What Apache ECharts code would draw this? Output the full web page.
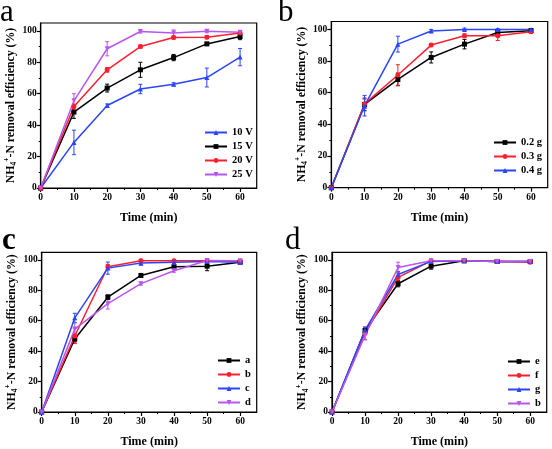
<!DOCTYPE html>
<html><head><meta charset="utf-8">
<script src="https://cdn.jsdelivr.net/npm/echarts@6/dist/echarts.min.js"></script>
<style>html,body{margin:0;padding:0;background:#fff}#c{width:552px;height:449px}</style>
</head><body><div id="c"></div>
<script>
// ---- data ----
const timeMin = [0, 10, 20, 30, 40, 50, 60];
const xMajorTicks = [0, 10, 20, 30, 40, 50, 60];
const xMinorTicks = [5, 15, 25, 35, 45, 55];
const yMajorTicks = [0, 20, 40, 60, 80, 100];
const yMinorTicks = [10, 30, 50, 70, 90];

// panel a: voltage
const a10V = [0, 29, 52.5, 63, 66, 70.3, 83.3];
const a10Verr = [0, 7.8, 1, 3, 1, 6, 5.5];
const a15V = [0, 48.3, 63.6, 75.2, 83, 91.7, 96.4];
const a15Verr = [0, 4, 2.5, 4.8, 2, 1, 2];
const a20V = [0, 51.9, 75.2, 90, 95.8, 96, 98.7];
const a20Verr = [0, 1.5, 1.5, 1, 1, 1, 0.8];
const a25V = [0, 55.5, 88.6, 99.6, 98.6, 99.8, 99.1];
const a25Verr = [0, 4.5, 4.5, 1, 2, 1, 1];

// panel b: dosage
const b02g = [0, 52.6, 68.4, 82.3, 90.7, 98.1, 99.2];
const b02gErr = [0, 4, 4, 3.5, 3, 1, 0.8];
const b03g = [0, 53, 71.2, 90.1, 96, 96, 98.5];
const b03gErr = [0, 3, 6.5, 1, 1.2, 3, 1];
const b04g = [0, 51.8, 90.7, 99, 100, 100, 100];
const b04gErr = [0, 6.5, 5, 1, 0.8, 0.5, 0.5];

// panel c
const cA = [0, 48, 75.5, 89.8, 95.5, 95.9, 98.5];
const cAerr = [0, 2, 1.5, 1, 1, 3, 0.8];
const cB = [0, 50, 95.5, 99.4, 99.4, 99.4, 99];
const cBerr = [0, 5, 1.5, 1, 0.8, 0.5, 0.5];
const cC = [0, 61.9, 94.6, 98, 98.5, 99, 98.5];
const cCerr = [0, 3, 4, 1.5, 1, 0.5, 0.5];
const cD = [0, 54.5, 71.2, 84.4, 92.9, 99.6, 99.5];
const cDerr = [0, 4, 3.5, 1, 1, 0.5, 0.5];

// panel d
const dE = [0, 53.5, 84.3, 95.9, 99.4, 99, 99];
const dEerr = [0, 1.5, 2, 2, 0.5, 0.5, 0.5];
const dF = [0, 51.7, 88.5, 99.4, 99.4, 99, 98.5];
const dFerr = [0, 4, 3, 0.8, 0.5, 0.5, 0.8];
const dG = [0, 53.9, 90.4, 99, 99.4, 99, 99];
const dGerr = [0, 2, 2, 1, 0.5, 0.5, 0.5];
const dBb = [0, 50.4, 95, 99.5, 99.5, 99, 99];
const dBbErr = [0, 3, 3.5, 0.8, 0.5, 0.5, 0.5];

const panelLetters = ['a', 'b', 'c', 'd'];

// ---- styles ----
const BLUE = '#2a45ff', BLACK = '#000000', RED = '#ff1f2e', PURPLE = '#b956ee';
const FONT = 'Liberation Serif';

const grids = [
  { left: 40.7, top: 23, width: 216, height: 165 },
  { left: 331.3, top: 21.5, width: 216.4, height: 166.2 },
  { left: 41.7, top: 252.3, width: 215, height: 161.7 },
  { left: 332, top: 252.3, width: 214.7, height: 161 }
];

const panels = [
  { series: [
    ['10 V', a10V, a10Verr, BLUE, 'triangle', 0],
    ['15 V', a15V, a15Verr, BLACK, 'rect', 0],
    ['20 V', a20V, a20Verr, RED, 'circle', 0],
    ['25 V', a25V, a25Verr, PURPLE, 'triangle', 180]
  ], legend: { left: 204, top: 127 } },
  { series: [
    ['0.2 g', b02g, b02gErr, BLACK, 'rect', 0],
    ['0.3 g', b03g, b03gErr, RED, 'circle', 0],
    ['0.4 g', b04g, b04gErr, BLUE, 'triangle', 0]
  ], legend: { left: 493, top: 137 } },
  { series: [
    ['a', cA, cAerr, BLACK, 'rect', 0],
    ['b', cB, cBerr, RED, 'circle', 0],
    ['c', cC, cCerr, BLUE, 'triangle', 0],
    ['d', cD, cDerr, PURPLE, 'triangle', 180]
  ], legend: { left: 217, top: 355 } },
  { series: [
    ['e', dE, dEerr, BLACK, 'rect', 0],
    ['f', dF, dFerr, RED, 'circle', 0],
    ['g', dG, dGerr, BLUE, 'triangle', 0],
    ['b', dBb, dBbErr, PURPLE, 'triangle', 180]
  ], legend: { left: 507, top: 356 } }
];

const xAxis = [], yAxis = [], series = [], legend = [], title = [];
grids.forEach((g, k) => {
  xAxis.push({
    type: 'value', gridIndex: k, min: 0, max: 65,
    name: 'Time (min)', nameLocation: 'middle', nameGap: 24,
    nameTextStyle: { fontFamily: FONT, fontWeight: 'bold', fontSize: 12, color: '#000' },
    axisLine: { show: true, onZero: false, lineStyle: { color: '#000', width: 1.2 } },
    axisTick: { show: true, inside: false, length: 4, customValues: xMajorTicks, lineStyle: { color: '#000', width: 1.2 } },
    axisLabel: { customValues: xMajorTicks, fontFamily: FONT, fontWeight: 'bold', fontSize: 9.5, color: '#000', margin: 5 },
    splitLine: { show: false }
  });
  yAxis.push({
    type: 'value', gridIndex: k, min: 0, max: 105,
    name: 'NH{sub|4}{sup|+}-N removal efficiency (%)', nameLocation: 'middle', nameGap: 20,
    nameTextStyle: { fontFamily: FONT, fontWeight: 'bold', fontSize: 11.8, color: '#000', lineHeight: 15,
      rich: {
        sub: { fontFamily: FONT, fontWeight: 'bold', fontSize: 7.5, color: '#000', lineHeight: 15, verticalAlign: 'bottom' },
        sup: { fontFamily: FONT, fontWeight: 'bold', fontSize: 7.5, color: '#000', lineHeight: 15, verticalAlign: 'top' }
      } },
    axisLine: { show: true, onZero: false, lineStyle: { color: '#000', width: 1.2 } },
    axisTick: { show: true, inside: false, length: 4, customValues: yMajorTicks, lineStyle: { color: '#000', width: 1.2 } },
    axisLabel: { customValues: yMajorTicks, fontFamily: FONT, fontWeight: 'bold', fontSize: 9.5, color: '#000', margin: 4 },
    splitLine: { show: false }
  });
  title.push({ text: panelLetters[k], left: [0, 278, 2, 285][k], top: [-3, -3, 225, 225][k], padding: 0,
    textStyle: { fontFamily: FONT, fontWeight: k === 2 ? 'bold' : 'normal', fontSize: 31, color: '#000' } });
});
grids.forEach((g, k) => {
  xAxis.push({
    type: 'value', gridIndex: k, min: 0, max: 65, position: 'bottom',
    axisLine: { show: false }, axisLabel: { show: false }, splitLine: { show: false },
    axisTick: { show: true, inside: false, length: 2, customValues: xMinorTicks, lineStyle: { color: '#000', width: 1 } }
  });
  yAxis.push({
    type: 'value', gridIndex: k, min: 0, max: 105, position: 'left',
    axisLine: { show: false }, axisLabel: { show: false }, splitLine: { show: false },
    axisTick: { show: true, inside: false, length: 2, customValues: yMinorTicks, lineStyle: { color: '#000', width: 1 } }
  });
});

panels.forEach((p, k) => {
  const names = [];
  p.series.forEach(([name, vals, errs, color, sym, rot]) => {
    const id = panelLetters[k] + '|' + name;
    names.push(id);
    series.push({
      type: 'custom', xAxisIndex: k, yAxisIndex: k, z: 2, silent: true,
      data: timeMin.map((t, i) => [t, vals[i], errs[i]]),
      renderItem: function (params, api) {
        const x = api.value(0), y = api.value(1), e = api.value(2);
        if (!e) return null;
        const hi = api.coord([x, y + e]), lo = api.coord([x, y - e]);
        const w = 2;
        const st = { stroke: color, lineWidth: 1 };
        return { type: 'group', children: [
          { type: 'line', shape: { x1: hi[0], y1: hi[1], x2: lo[0], y2: lo[1] }, style: st },
          { type: 'line', shape: { x1: hi[0] - w, y1: hi[1], x2: hi[0] + w, y2: hi[1] }, style: st },
          { type: 'line', shape: { x1: lo[0] - w, y1: lo[1], x2: lo[0] + w, y2: lo[1] }, style: st }
        ] };
      }
    });
    series.push({
      type: 'line', name: id, xAxisIndex: k, yAxisIndex: k, z: 3,
      data: timeMin.map((t, i) => [t, vals[i]]),
      symbol: sym, symbolRotate: rot, symbolSize: 5, showAllSymbol: true,
      lineStyle: { color: color, width: 1.5 },
      itemStyle: { color: color, borderWidth: 0 },
      animation: false
    });
  });
  legend.push({
    data: names, orient: 'vertical', left: p.legend.left, top: p.legend.top,
    itemWidth: 22, itemHeight: 6, itemGap: 3, padding: 0,
    formatter: n => n.split('|')[1],
    textStyle: { fontFamily: FONT, fontWeight: 'bold', fontSize: 10.5, color: '#000' },
    selectedMode: false
  });
});

const chart = echarts.init(document.getElementById('c'), null, { renderer: 'canvas' });
chart.setOption({
  animation: false,
  backgroundColor: '#fff',
  title: title,
  grid: grids.map(g => Object.assign({ show: true, borderColor: '#000', borderWidth: 1.2, backgroundColor: 'transparent' }, g)),
  xAxis: xAxis, yAxis: yAxis, legend: legend, series: series
});
</script></body></html>
